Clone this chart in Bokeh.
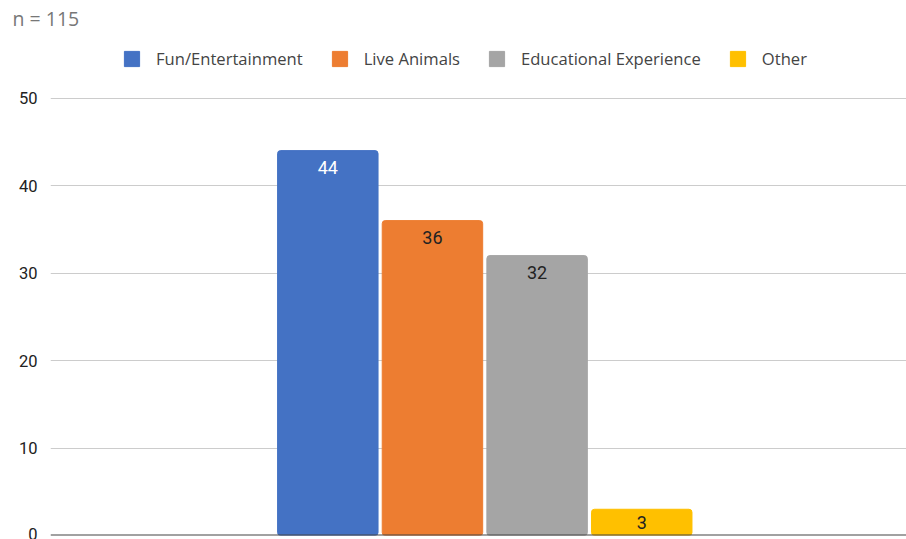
import numpy as np
from bokeh.plotting import figure
from bokeh.models import ColumnDataSource, LabelSet, Span, FixedTicker, Range1d
from bokeh.core.properties import value
from bokeh.embed import file_html
from bokeh.resources import INLINE

categories = ["Fun/Entertainment", "Live Animals", "Educational Experience", "Other"]
values = [44, 36, 32, 3]
y_ticks = [0, 10, 20, 30, 40, 50]
note = "n = 115"

bar_colors = ["#4472C4", "#ED7D31", "#A5A5A5", "#FFC000"]
label_colors = ["#ffffff", "#222222", "#222222", "#222222"]

xs = np.arange(len(categories))
vals = np.array(values, dtype=float)
label_y = np.maximum(vals - 1.95, vals / 2)

src = ColumnDataSource(dict(
    x=xs, top=vals, cat=categories, color=bar_colors,
    ly=label_y, txt=[str(v) for v in values], lc=label_colors,
))

p = figure(width=906, height=539, output_backend="svg", toolbar_location=None,
           title=note,
           x_range=Range1d(-2.65, 5.53), y_range=Range1d(0, 57.39),
           min_border_left=50, min_border_right=0, min_border_top=0, min_border_bottom=4)
p.outline_line_color = None
p.background_fill_color = "white"
p.border_fill_color = "white"

p.title.text_font = "Open Sans"
p.title.text_font_size = "19.5px"
p.title.text_font_style = "normal"
p.title.text_color = "#777777"
p.title.align = "left"
p.title.offset = -38
p.title.standoff = 4

r = p.vbar(x="x", top="top", width=0.96, bottom=0, color="color", source=src,
           legend_field="cat", border_radius=3)

p.xaxis.visible = False
p.xgrid.visible = False
p.yaxis.ticker = FixedTicker(ticks=y_ticks)
p.yaxis.axis_line_color = None
p.yaxis.major_tick_line_color = None
p.yaxis.minor_tick_line_color = None
p.yaxis.major_label_standoff = 7
p.yaxis.major_label_text_font = "Roboto"
p.yaxis.major_label_text_font_size = "16.5px"
p.yaxis.major_label_text_color = "#222222"
p.ygrid.ticker = FixedTicker(ticks=y_ticks)
p.ygrid.grid_line_color = "#cccccc"
p.ygrid.grid_line_width = 1

p.add_layout(Span(location=0, dimension="width", line_color="#444444", line_width=2))

labels = LabelSet(x="x", y="ly", text="txt", source=src, text_align="center",
                  text_baseline="middle", text_font=value("Roboto"),
                  text_font_size=value("18px"), text_color="lc")
p.add_layout(labels)

leg = p.legend[0]
leg.orientation = "horizontal"
leg.location = (72, 465)
leg.padding = 0
leg.margin = 0
leg.spacing = 27
leg.glyph_width = 19
leg.glyph_height = 19
leg.label_standoff = 15
leg.label_text_font = "Open Sans"
leg.label_text_font_size = "16.6px"
leg.label_text_color = "#444444"
leg.border_line_alpha = 0
leg.background_fill_alpha = 0

open("out.html", "w").write(file_html(p, INLINE))
